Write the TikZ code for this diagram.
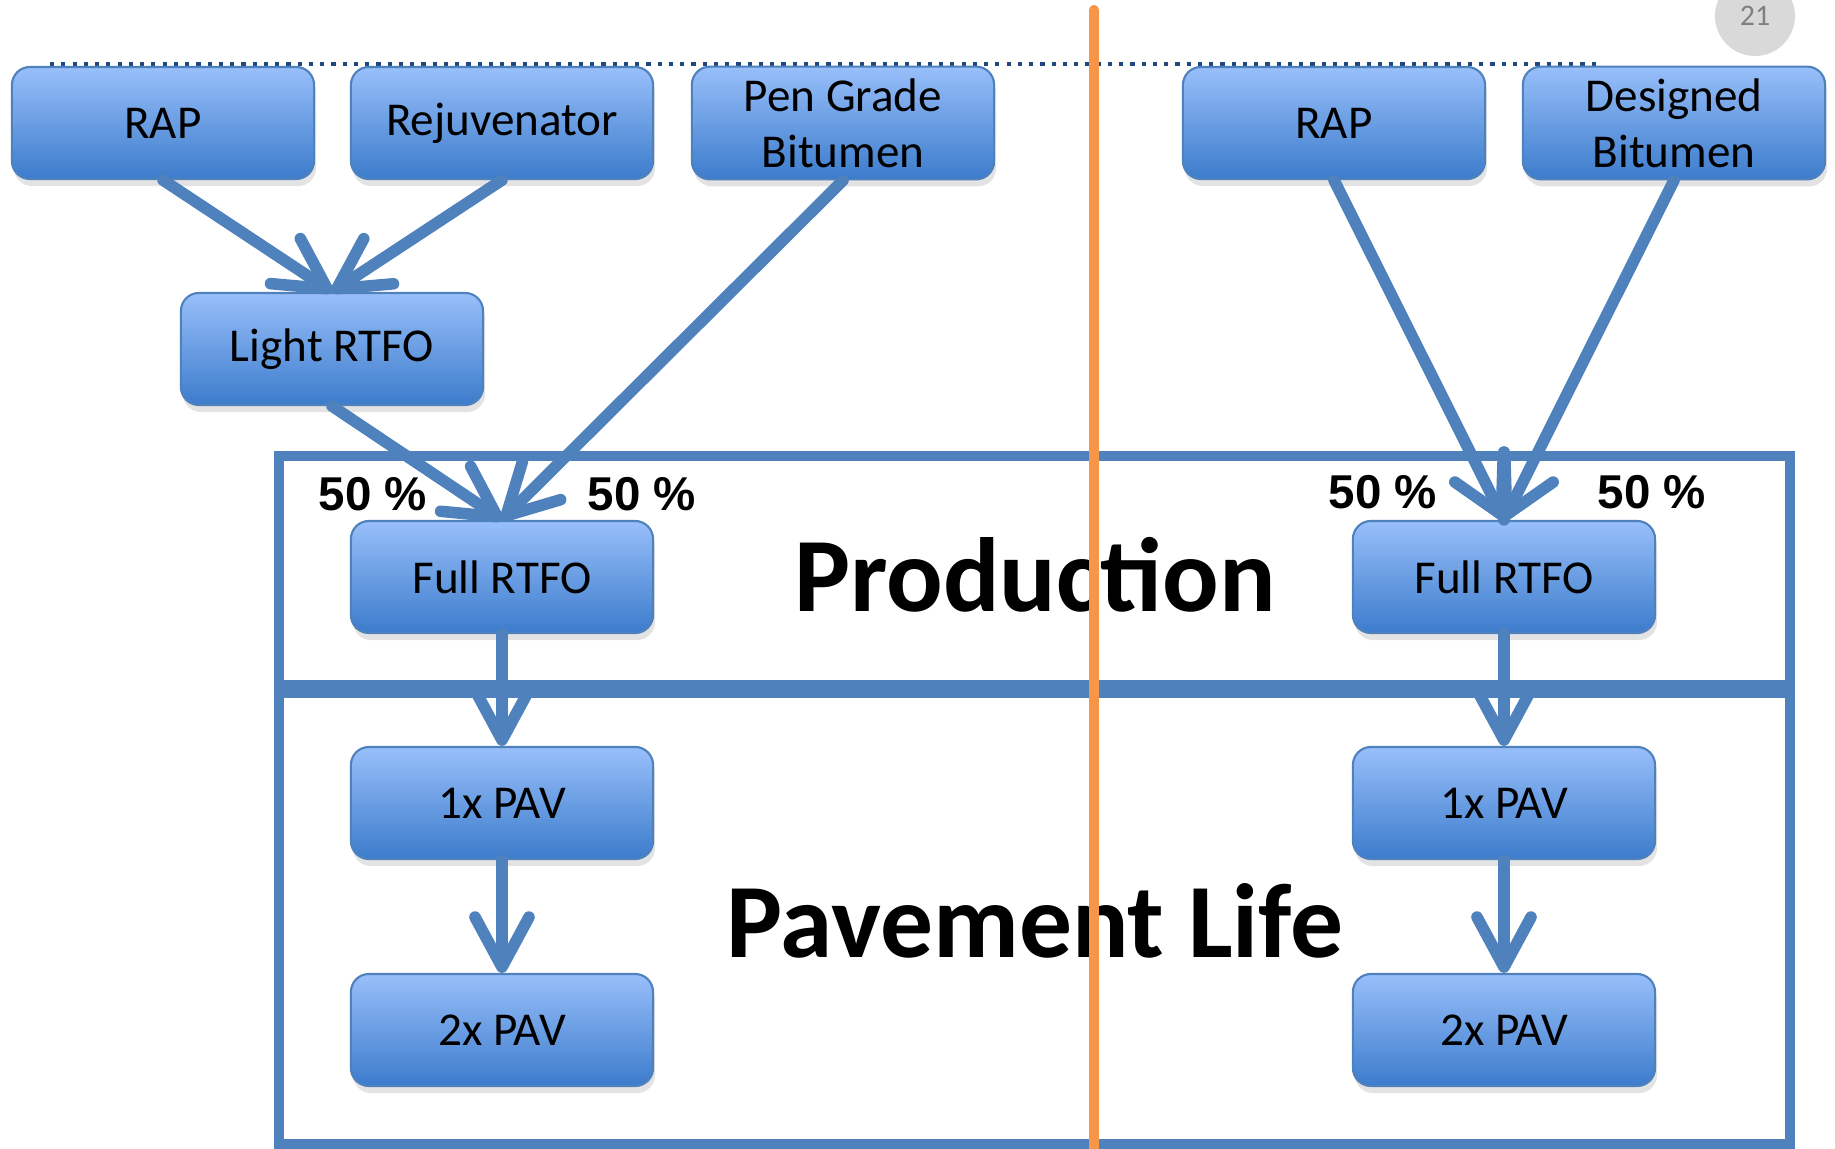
\documentclass[tikz,border=0pt]{standalone}
\usepackage{fontspec}
\setmainfont{Carlito}
\newfontfamily\pctfont{Liberation Sans}
\usetikzlibrary{arrows.meta}
\usetikzlibrary{shadows}
\definecolor{mblue}{RGB}{79,129,189}
\definecolor{btop}{RGB}{152,191,250}
\definecolor{bbot}{RGB}{60,124,204}
\definecolor{morange}{RGB}{247,150,70}
\definecolor{mdots}{RGB}{31,73,125}
\definecolor{pgfill}{RGB}{217,217,217}
\definecolor{pgtext}{RGB}{128,128,128}
\tikzset{box/.style = {draw=mblue, line width=0.6pt, rounded corners=0.18cm,
                       top color=btop, bottom color=bbot,
                       minimum width=3.02cm, minimum height=1.12cm, align=center,
                       font=\fontsize{13.4}{16}\selectfont,
                       drop shadow={shadow xshift=0.2mm, shadow yshift=-0.7mm, opacity=0.22}}}
\tikzset{flow/.style = {mblue, line width=3.3pt, line cap=round,
                        -{Straight Barb[length=5mm, width=5.4mm, round]}}}
\tikzset{frame/.style = {mblue, line width=2.9pt}}
\tikzset{pct/.style = {font=\pctfont\bfseries\fontsize{13.5}{16}\selectfont}}
\tikzset{big/.style = {font=\bfseries\fontsize{30}{36}\selectfont}}

\begin{document}
\begin{tikzpicture}[x=0.01cm, y=-0.01cm]
      \useasboundingbox (0, 0) rectangle (1835, 1149);

      % page number and rule
      \node (pg) [circle, fill=pgfill, minimum size=0.8cm, text=pgtext,
                  font=\fontsize{8.5}{10}\selectfont] at (1755, 16) {21};
      \draw [mdots, line width=1.2pt, dotted] (50, 64) -- (1602, 64);

      % stages
      \draw [frame] (279, 456) rectangle (1790, 685);
      \draw [frame] (279, 693) rectangle (1790, 1144);
      \node (prod) [big] at (1035, 575) {Production};
      \node (life) [big] at (1035, 921) {Pavement Life};

      % left column
      \node (rapL) [box] at (163, 123) {RAP};
      \node (rej)  [box] at (502, 123) {Rejuvenator};
      \node (pen)  [box] at (843, 123) {Pen Grade\\Bitumen};
      \node (lrt)  [box] at (332, 349) {Light RTFO};
      \node (frL)  [box] at (502, 577) {Full RTFO};
      \node (p1L)  [box] at (502, 803) {1x PAV};
      \node (p2L)  [box] at (502, 1030) {2x PAV};

      % right column
      \node (rapR) [box] at (1334, 123) {RAP};
      \node (des)  [box] at (1674, 123) {Designed\\Bitumen};
      \node (frR)  [box] at (1504, 577) {Full RTFO};
      \node (p1R)  [box] at (1504, 803) {1x PAV};
      \node (p2R)  [box] at (1504, 1030) {2x PAV};
      \coordinate (stub) at (1504, 452);

      \draw [flow] (rapL.south) -- (lrt.north);
      \draw [flow] (rej.south) -- (lrt.north);
      \draw [flow] (lrt.south) -- (frL.north);
      \draw [flow] (pen.south) -- (frL.north);
      \draw [flow] (frL.south) -- (p1L.north);
      \draw [flow] (p1L.south) -- (p2L.north);

      \draw [flow] (rapR.south) -- (frR.north);
      \draw [flow] (des.south) -- (frR.north);
      \draw [mblue, line width=3.3pt, line cap=round] (stub) -- (frR.north);
      \draw [flow] (frR.south) -- (p1R.north);
      \draw [flow] (p1R.south) -- (p2R.north);

      \node (aL) [pct] at (373, 494) {50 \%};
      \node (bL) [pct] at (642, 494) {50 \%};
      \node (aR) [pct] at (1383, 492) {50 \%};
      \node (bR) [pct] at (1652, 492) {50 \%};

      % divider
      \draw [morange, line width=2.9pt, line cap=round] (1094, 10) -- (1094, 1160);
    \end{tikzpicture}
\end{document}
